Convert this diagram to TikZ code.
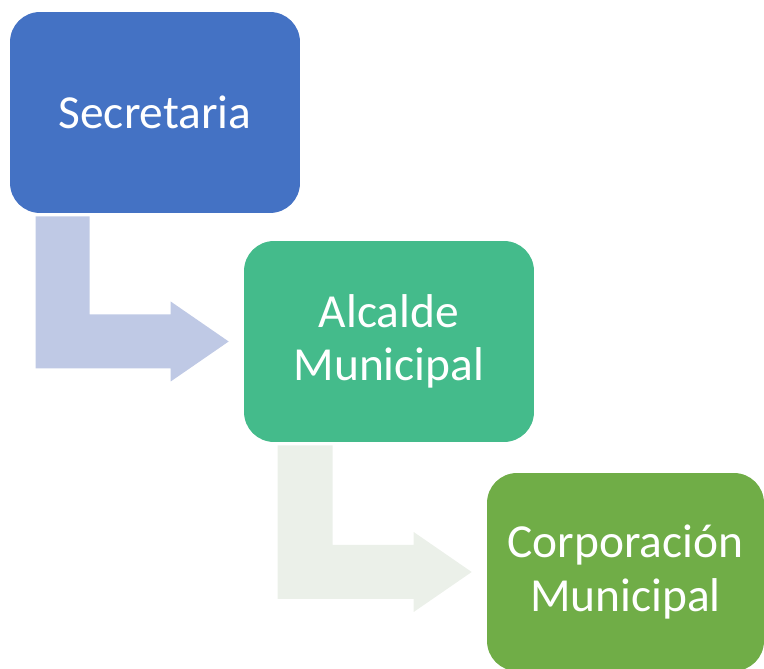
\documentclass[tikz,border=0pt]{standalone}
\usepackage{fontspec}
\setmainfont{Carlito}
\usepackage{tikz}
\usepackage{xcolor}
\usetikzlibrary{calc, positioning}

\definecolor{secblue}{HTML}{4472C4}
\definecolor{alcgreen}{HTML}{44BB8B}
\definecolor{corgreen}{HTML}{70AD47}
\definecolor{arrowblue}{HTML}{BFC9E5}
\definecolor{arrowgrey}{HTML}{EBF0E9}

\begin{document}
\begin{tikzpicture}[x=0.02cm, y=0.02cm,
    box/.style={rounded corners=0.6cm, text=white, align=center,
        font=\fontsize{27}{30.5}\selectfont, inner sep=0pt},
    bigbox/.style={box, minimum width=5.8cm, minimum height=4.02cm}]
                        \useasboundingbox (0,0) rectangle (764,669);
                        \node[bigbox, fill=secblue] (sec) at (155, 556.5) {Secretaria};
                        \node[bigbox, fill=alcgreen] (alc) at (389, 327.5) {Alcalde\\Municipal};
                        \node[box, fill=corgreen, minimum width=5.54cm, minimum height=3.96cm] (cor) at (625.5, 97) {Corporación\\Municipal};
                        \coordinate (t1) at ($(alc.west)+(-15,0)$);
                        \coordinate (t2) at ($(cor.west)+(-15,0)$);
                        \fill[arrowblue]
                        ($(sec.south west)+(26,-3)$) coordinate (s1) -- ++(54,0)
                        |- ($(t1)+(-58,27)$) -- ++(0,13) -- (t1) -- ++(-58,-40)
                        -- ++(0,13) -| (s1) -- cycle;
                        \fill[arrowgrey]
                        ($(alc.south west)+(34,-3)$) coordinate (s2) -- ++(55,0)
                        |- ($(t2)+(-58,27)$) -- ++(0,13) -- (t2) -- ++(-58,-40)
                        -- ++(0,13) -| (s2) -- cycle;
                    \end{tikzpicture}
\end{document}
